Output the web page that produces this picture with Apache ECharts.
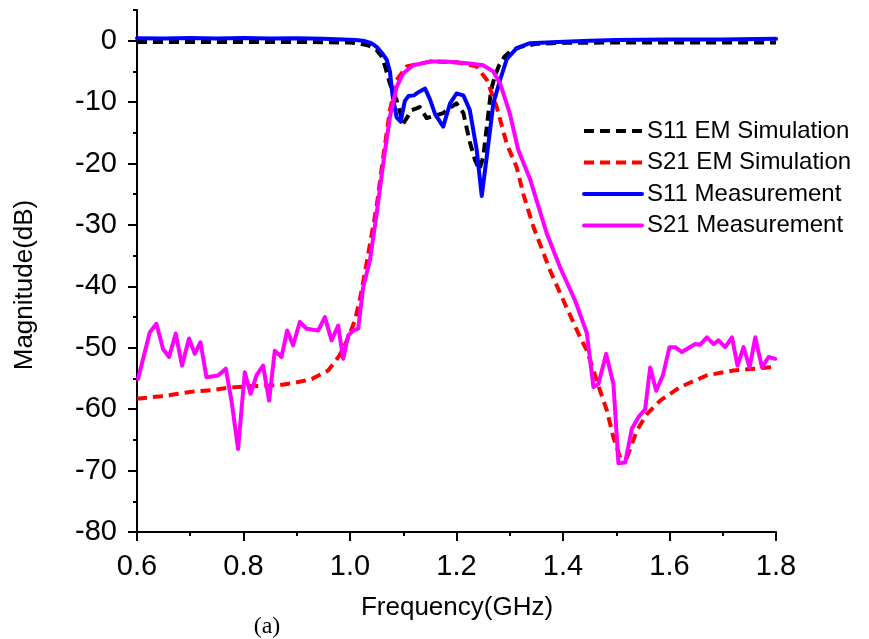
<!DOCTYPE html>
<html>
<head>
<meta charset="utf-8">
<script src="https://cdn.jsdelivr.net/npm/echarts@6/dist/echarts.min.js"></script>
<style>
html,body{margin:0;padding:0;background:#fff;}
#chart{width:869px;height:639px;}
</style>
</head>
<body>
<div id="chart"></div>
<script>
// ---- data (frequency in GHz, magnitude in dB) ----
const seriesNames = ['S11 EM Simulation', 'S21 EM Simulation', 'S11 Measurement', 'S21 Measurement'];

const fS11Sim = [0.6, 0.7, 0.8, 0.9, 0.95, 1.0, 1.02, 1.035, 1.05, 1.06, 1.066, 1.075, 1.0876, 1.1, 1.116, 1.131, 1.144, 1.16, 1.175, 1.19, 1.2, 1.213, 1.225, 1.235, 1.243, 1.25, 1.257, 1.265, 1.272, 1.28, 1.29, 1.30, 1.32, 1.35, 1.4, 1.5, 1.6, 1.7, 1.8];
const dS11Sim = [-0.2, -0.2, -0.2, -0.2, -0.25, -0.3, -0.5, -0.8, -1.5, -2.6, -4.2, -7, -9.7, -13.5, -11.3, -10.8, -12.6, -12.2, -11.8, -10.8, -10.2, -11.8, -16.5, -19.5, -21, -19, -14, -8, -5.8, -4, -2.6, -1.8, -1.0, -0.5, -0.35, -0.3, -0.3, -0.3, -0.3];

const fS21Sim = [0.6, 0.645, 0.677, 0.708, 0.74, 0.771, 0.803, 0.834, 0.865, 0.897, 0.928, 0.959, 0.98, 0.99, 1.0, 1.01, 1.02, 1.031, 1.041, 1.05, 1.062, 1.075, 1.0876, 1.1064, 1.15, 1.2, 1.238, 1.257, 1.2756, 1.2944, 1.313, 1.3256, 1.3444, 1.3757, 1.4008, 1.4322, 1.4447, 1.4571, 1.4697, 1.4823, 1.4947, 1.5073, 1.5199, 1.5387, 1.5575, 1.5825, 1.62, 1.67, 1.72, 1.76, 1.8];
const dS21Sim = [-58.3, -57.9, -57.5, -57.1, -56.9, -56.5, -56.3, -56.2, -56.1, -55.7, -55.1, -53.7, -51.3, -49.6, -47.7, -45.3, -41.5, -36.3, -31.4, -27, -19.2, -11.3, -6.4, -4.2, -3.4, -3.5, -4.2, -6.4, -10.8, -16.8, -20.6, -25, -30.3, -37.4, -42.3, -48.3, -50.4, -53.7, -57, -60.2, -64.6, -67.9, -67.9, -63.5, -60.8, -58.6, -56.4, -54.5, -53.7, -53.4, -53.1];

const fS11Meas = [0.6, 0.65, 0.7, 0.75, 0.8, 0.85, 0.9, 0.95, 0.987, 1.01, 1.025, 1.04, 1.05, 1.06, 1.069, 1.075, 1.08, 1.0876, 1.095, 1.103, 1.11, 1.12, 1.13, 1.141, 1.15, 1.16, 1.175, 1.188, 1.2, 1.213, 1.225, 1.238, 1.2474, 1.2568, 1.2692, 1.2818, 1.2944, 1.313, 1.338, 1.39, 1.45, 1.5, 1.6, 1.7, 1.8];
const dS11Meas = [0.4, 0.35, 0.45, 0.35, 0.45, 0.35, 0.4, 0.3, 0.2, 0.1, 0, -0.4, -1, -2, -3.1, -5, -9, -12.5, -13.2, -9.8, -9, -8.9, -8.3, -7.8, -9.5, -12, -14, -10.2, -8.6, -8.9, -11.3, -17.8, -25.3, -18.9, -10.2, -6.4, -3, -1.2, -0.4, -0.2, 0, 0.1, 0.2, 0.2, 0.3];

const fS21Meas = [0.6019, 0.6239, 0.6365, 0.6489, 0.6602, 0.6727, 0.6846, 0.6977, 0.7085, 0.7192, 0.7305, 0.7523, 0.7667, 0.7774, 0.7898, 0.8024, 0.8132, 0.8244, 0.8368, 0.8481, 0.8588, 0.8714, 0.882, 0.8932, 0.9058, 0.9184, 0.9402, 0.9528, 0.9654, 0.9778, 0.9872, 0.9966, 1.006, 1.0154, 1.0248, 1.0374, 1.05, 1.0624, 1.075, 1.0876, 1.1, 1.119, 1.15, 1.18, 1.225, 1.25, 1.269, 1.282, 1.30, 1.316, 1.338, 1.3696, 1.3945, 1.4228, 1.4447, 1.4571, 1.4665, 1.481, 1.4947, 1.5041, 1.5167, 1.5293, 1.5417, 1.5543, 1.5637, 1.575, 1.5876, 1.6, 1.6107, 1.6233, 1.6483, 1.6577, 1.6703, 1.6827, 1.6921, 1.7047, 1.7173, 1.7278, 1.7391, 1.7504, 1.7611, 1.7737, 1.7861, 1.7987];
const dS21Meas = [-55.1, -47.5, -46.1, -50.2, -51.5, -47.7, -52.9, -48.5, -51, -49.1, -54.8, -54.5, -53.4, -58.6, -66.5, -54, -57.5, -54.5, -52.9, -58.6, -50.5, -51.5, -47.2, -49.6, -45.8, -46.9, -47.2, -45, -48.8, -46.4, -51.8, -48, -47.2, -46.9, -40.1, -35.8, -28.2, -20, -12.4, -7.5, -5.3, -4, -3.4, -3.4, -3.7, -4, -5, -7, -11.8, -17.8, -22.5, -31.4, -36.9, -42.3, -47.6, -56.4, -55.9, -51, -55.9, -68.8, -68.7, -63.2, -61.3, -60, -53.2, -57, -54.5, -49.9, -49.9, -50.7, -49.4, -49.5, -48.3, -49.4, -48.8, -49.9, -48.3, -52.9, -49.9, -53.2, -48.3, -53.2, -51.5, -51.8];

const yMajorTicks = [-80, -70, -60, -50, -40, -30, -20, -10, 0];
const yMinorTicks = [-75, -65, -55, -45, -35, -25, -15, -5, 5];

// ---- chart ----
const zip = (xs, ys) => xs.map((x, i) => [x, ys[i]]);
const FONT = 'Liberation Sans, Arial, sans-serif';
const chart = echarts.init(document.getElementById('chart'), null, {renderer: 'canvas'});

function lineSeries(name, xs, ys, color, dashed) {
  return {
    name: name, type: 'line', data: zip(xs, ys),
    symbol: 'none', showSymbol: false, smooth: false,
    lineStyle: {color: color, width: 4, type: dashed ? [10, 6] : 'solid', join: 'round', cap: dashed ? 'butt' : 'round'},
    itemStyle: {color: color},
    emphasis: {disabled: true},
    xAxisIndex: 0, yAxisIndex: 0
  };
}

chart.setOption({
  animation: false,
  backgroundColor: '#ffffff',
  grid: {left: 137, right: 93, top: 10, bottom: 107, containLabel: false},
  xAxis: {
    type: 'value', min: 0.6, max: 1.8, interval: 0.2,
    axisLine: {show: true, onZero: false, lineStyle: {color: '#000', width: 2}},
    axisTick: {show: true, inside: false, length: 9, lineStyle: {color: '#000', width: 2}},
    minorTick: {show: true, splitNumber: 2, length: 4, lineStyle: {color: '#000', width: 2}},
    axisLabel: {fontFamily: FONT, fontSize: 29, color: '#000', margin: 20,
      formatter: v => v.toFixed(1)},
    splitLine: {show: false}, minorSplitLine: {show: false}
  },
  yAxis: [{
    type: 'value', min: -80, max: 5, interval: 10,
    axisLine: {show: true, onZero: false, lineStyle: {color: '#000', width: 2}},
    axisTick: {show: true, inside: false, length: 9, customValues: yMajorTicks,
      lineStyle: {color: '#000', width: 2}},
    axisLabel: {fontFamily: FONT, fontSize: 29, color: '#000', margin: 20,
      customValues: yMajorTicks},
    splitLine: {show: false}
  }, {
    type: 'value', min: -80, max: 5, interval: 5, position: 'left', offset: 0,
    axisLine: {show: false},
    axisTick: {show: true, inside: false, length: 4, customValues: yMinorTicks,
      lineStyle: {color: '#000', width: 2}},
    axisLabel: {show: false},
    splitLine: {show: false}
  }],
  legend: {
    orient: 'vertical', left: 577, top: 114,
    itemWidth: 58, itemHeight: 24, itemGap: 7.5,
    itemStyle: {opacity: 0},
    lineStyle: {width: 4},
    textStyle: {fontFamily: FONT, fontSize: 24, color: '#000', lineHeight: 24},
    data: seriesNames,
    selectedMode: false
  },
  series: [
    lineSeries(seriesNames[0], fS11Sim, dS11Sim, '#000000', true),
    lineSeries(seriesNames[1], fS21Sim, dS21Sim, '#ff0000', true),
    lineSeries(seriesNames[2], fS11Meas, dS11Meas, '#0000ff', false),
    lineSeries(seriesNames[3], fS21Meas, dS21Meas, '#ff00ff', false)
  ],
  graphic: [{
    type: 'text', x: 457, y: 608,
    style: {text: 'Frequency(GHz)', fontFamily: FONT, fontSize: 26, fill: '#000',
      align: 'center', verticalAlign: 'middle'}
  }, {
    type: 'text', x: 25, y: 285, rotation: Math.PI / 2,
    style: {text: 'Magnitude(dB)', fontFamily: FONT, fontSize: 26, fill: '#000',
      align: 'center', verticalAlign: 'middle'}
  }, {
    type: 'text', x: 267, y: 627,
    style: {text: '(a)', fontFamily: 'Liberation Serif, Times New Roman, serif', fontSize: 24, fill: '#000',
      align: 'center', verticalAlign: 'middle'}
  }]
});
</script>
</body>
</html>
